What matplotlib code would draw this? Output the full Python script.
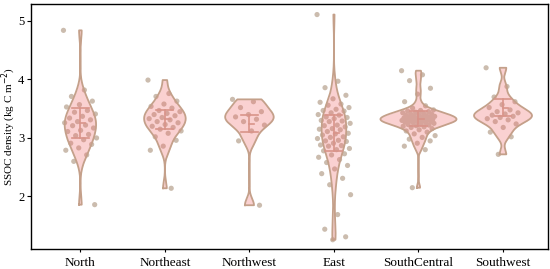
import numpy as np
import matplotlib.pyplot as plt

plt.rcParams['font.family'] = ['Liberation Serif', 'DejaVu Serif']

# SSOC density per region (kg C m-2)
regions = ["North", "Northeast", "Northwest", "East", "SouthCentral", "Southwest"]

north = [4.84, 3.82, 3.71, 3.63, 3.57, 3.53, 3.47, 3.44, 3.41, 3.37, 3.34, 3.31,
         3.28, 3.26, 3.22, 3.21, 3.17, 3.13, 3.11, 3.06, 3.04, 3.00, 2.97, 2.91,
         2.89, 2.83, 2.79, 2.71, 2.60, 1.86]
northeast = [3.99, 3.76, 3.71, 3.63, 3.58, 3.54, 3.51, 3.47, 3.45, 3.42, 3.40,
             3.38, 3.35, 3.33, 3.31, 3.28, 3.26, 3.23, 3.20, 3.18, 3.15, 3.12,
             3.08, 3.02, 2.96, 2.86, 2.79, 2.14]
northwest = [3.66, 3.62, 3.52, 3.45, 3.40, 3.36, 3.32, 3.28, 3.22, 3.12, 2.95,
             1.85]
east = [5.11, 3.97, 3.86, 3.73, 3.67, 3.61, 3.58, 3.56, 3.52, 3.49, 3.47, 3.46,
        3.43, 3.40, 3.39, 3.36, 3.35, 3.33, 3.30, 3.29, 3.28, 3.25, 3.22, 3.21,
        3.19, 3.16, 3.15, 3.14, 3.11, 3.08, 3.07, 3.05, 3.02, 3.01, 2.99, 2.96,
        2.95, 2.94, 2.91, 2.88, 2.87, 2.86, 2.82, 2.80, 2.78, 2.73, 2.71, 2.67,
        2.63, 2.58, 2.53, 2.47, 2.39, 2.31, 2.20, 2.03, 1.69, 1.44, 1.31, 1.26]
southcentral = [4.15, 4.08, 3.98, 3.85, 3.75, 3.62, 3.55, 3.51, 3.48, 3.47, 3.46,
                3.45, 3.44, 3.43, 3.42, 3.41, 3.41, 3.40, 3.39, 3.38, 3.38, 3.37,
                3.36, 3.36, 3.35, 3.34, 3.34, 3.33, 3.33, 3.32, 3.32, 3.31, 3.31,
                3.30, 3.30, 3.29, 3.29, 3.28, 3.28, 3.27, 3.26, 3.26, 3.25, 3.24,
                3.23, 3.22, 3.21, 3.20, 3.19, 3.18, 3.16, 3.14, 3.12, 3.10, 3.07,
                3.04, 3.01, 2.98, 2.95, 2.91, 2.86, 2.80, 2.15]
southwest = [4.20, 3.88, 3.70, 3.62, 3.57, 3.52, 3.48, 3.45, 3.43, 3.41, 3.39,
             3.37, 3.35, 3.33, 3.31, 3.28, 3.24, 3.18, 3.10, 3.02, 2.72]

# error bars (lower, centre, upper)
err_low = [3.00, 3.16, 3.11, 2.77, 3.20, 3.37]
err_mid = [3.25, 3.33, 3.24, 3.08, 3.33, 3.52]
err_high = [3.51, 3.48, 3.40, 3.40, 3.46, 3.67]

groups = [north, northeast, northwest, east, southcentral, southwest]

OUTLINE = '#c4a08a'
FILL = '#f07070'
POINT = '#cbbcae'
ERR = '#d9948a'


def bw_nrd0(v):
    sd = v.std(ddof=1)
    iqr = np.percentile(v, 75) - np.percentile(v, 25)
    return 0.9 * min(sd, iqr / 1.34) * len(v) ** -0.2


def kde(v, grid):
    bw = bw_nrd0(v)
    z = (grid[:, None] - v[None, :]) / bw
    return np.exp(-0.5 * z ** 2).sum(axis=1) / (len(v) * bw * np.sqrt(2 * np.pi))


fig = plt.figure(figsize=(5.5, 2.69), dpi=100)
ax = fig.add_axes([0.057, 0.074, 0.939, 0.911])

curves = []
for g in groups:
    v = np.asarray(g)
    grid = np.linspace(v.min(), v.max(), 512)
    curves.append((grid, kde(v, grid)))
dmax = max(d.max() for _, d in curves)

for i, (g, (grid, d)) in enumerate(zip(groups, curves)):
    v = np.asarray(g)
    # deterministic jitter
    jit = ((np.arange(len(v)) * 0.618034) % 1 - 0.5) * 0.4
    ax.scatter(i + jit, v, s=14, color=POINT, edgecolor='none', zorder=2)

    half = 0.45 * d / dmax
    ax.fill_betweenx(grid, i - half, i + half, color=FILL, alpha=0.32,
                     linewidth=0, zorder=3)
    xs = np.concatenate([i - half, (i + half)[::-1], [i - half[0]]])
    ys = np.concatenate([grid, grid[::-1], [grid[0]]])
    ax.plot(xs, ys, color=OUTLINE, lw=1.3, zorder=4)

    cw = 0.1
    ax.plot([i, i], [err_low[i], err_high[i]], color=ERR, lw=1.2, zorder=5)
    ax.plot([i - cw, i + cw], [err_low[i]] * 2, color=ERR, lw=1.2, zorder=5)
    ax.plot([i - cw, i + cw], [err_high[i]] * 2, color=ERR, lw=1.2, zorder=5)
    ax.plot([i, i + cw * 0.6], [err_mid[i]] * 2, color=ERR, lw=1.2, zorder=5)

ax.set_xlim(-0.58, 5.53)
ax.set_ylim(1.1, 5.29)
ax.set_xticks(range(len(regions)))
ax.set_xticklabels(regions, fontsize=9.5)
ax.set_yticks([2, 3, 4, 5])
ax.tick_params(axis='y', labelsize=9, length=3, width=0.8, pad=2)
ax.tick_params(axis='x', length=2.5, width=0.8, pad=3)
ax.set_ylabel('SSOC density (kg C m$^{-2}$)', fontsize=8)
ax.yaxis.set_label_coords(-0.0255, 0.5)
for s in ax.spines.values():
    s.set_linewidth(1.0)

fig.savefig('out.png', dpi=100)
